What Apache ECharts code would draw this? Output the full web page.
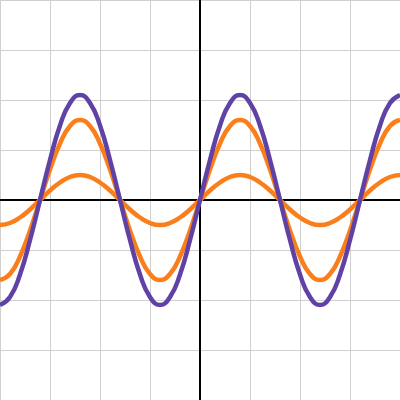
<!DOCTYPE html>
<html>
<head>
<meta charset="utf-8">
<script src="https://cdn.jsdelivr.net/npm/echarts@6/dist/echarts.min.js"></script>
<style>html,body{margin:0;padding:0;background:#fff}#chart{width:400px;height:400px}</style>
</head>
<body>
<div id="chart"></div>
<script>
// x positions, step 0.2 from -4 to 4
var xs = [];
for (var i = 0; i <= 40; i++) xs.push(+(-4 + i * 0.2).toFixed(1));

// values, one per x position
var smallWave = [-0.5,-0.46,-0.35,-0.19,0,0.19,0.35,0.46,0.5,0.46,0.35,0.19,0,-0.19,-0.35,-0.46,
  -0.5,-0.46,-0.35,-0.19,0,0.19,0.35,0.46,0.5,0.46,0.35,0.19,0,-0.19,-0.35,-0.46,
  -0.5,-0.46,-0.35,-0.19,0,0.19,0.35,0.46,0.5];
var midWave = [-1.6,-1.48,-1.13,-0.61,0,0.61,1.13,1.48,1.6,1.48,1.13,0.61,0,-0.61,-1.13,-1.48,
  -1.6,-1.48,-1.13,-0.61,0,0.61,1.13,1.48,1.6,1.48,1.13,0.61,0,-0.61,-1.13,-1.48,
  -1.6,-1.48,-1.13,-0.61,0,0.61,1.13,1.48,1.6];
var bigWave = [-2.1,-1.94,-1.49,-0.8,0,0.8,1.49,1.94,2.1,1.94,1.49,0.8,0,-0.8,-1.49,-1.94,
  -2.1,-1.94,-1.49,-0.8,0,0.8,1.49,1.94,2.1,1.94,1.49,0.8,0,-0.8,-1.49,-1.94,
  -2.1,-1.94,-1.49,-0.8,0,0.8,1.49,1.94,2.1];

function pairs(ys){ return xs.map(function(x,i){ return [x, ys[i]]; }); }
function line(ys, color){
  return {type:'line', data:pairs(ys), smooth:true, showSymbol:false, symbol:'none',
    lineStyle:{color:color, width:4.5}, z:3};
}

var axisBase = {type:'value', min:-4, max:4, interval:1,
  axisLabel:{show:false}, axisTick:{show:false},
  axisLine:{onZero:true, lineStyle:{color:'#000', width:2}},
  splitLine:{lineStyle:{color:'#cfcfcf', width:1}}};

var chart = echarts.init(document.getElementById('chart'));
chart.setOption({
  animation:false,
  grid:{left:0, right:0, top:0, bottom:0},
  xAxis: Object.assign({}, axisBase),
  yAxis: Object.assign({}, axisBase),
  series:[
    line(smallWave, '#fa7e19'),
    line(midWave, '#fa7e19'),
    line(bigWave, '#6042a6')
  ]
});
</script>
</body>
</html>
